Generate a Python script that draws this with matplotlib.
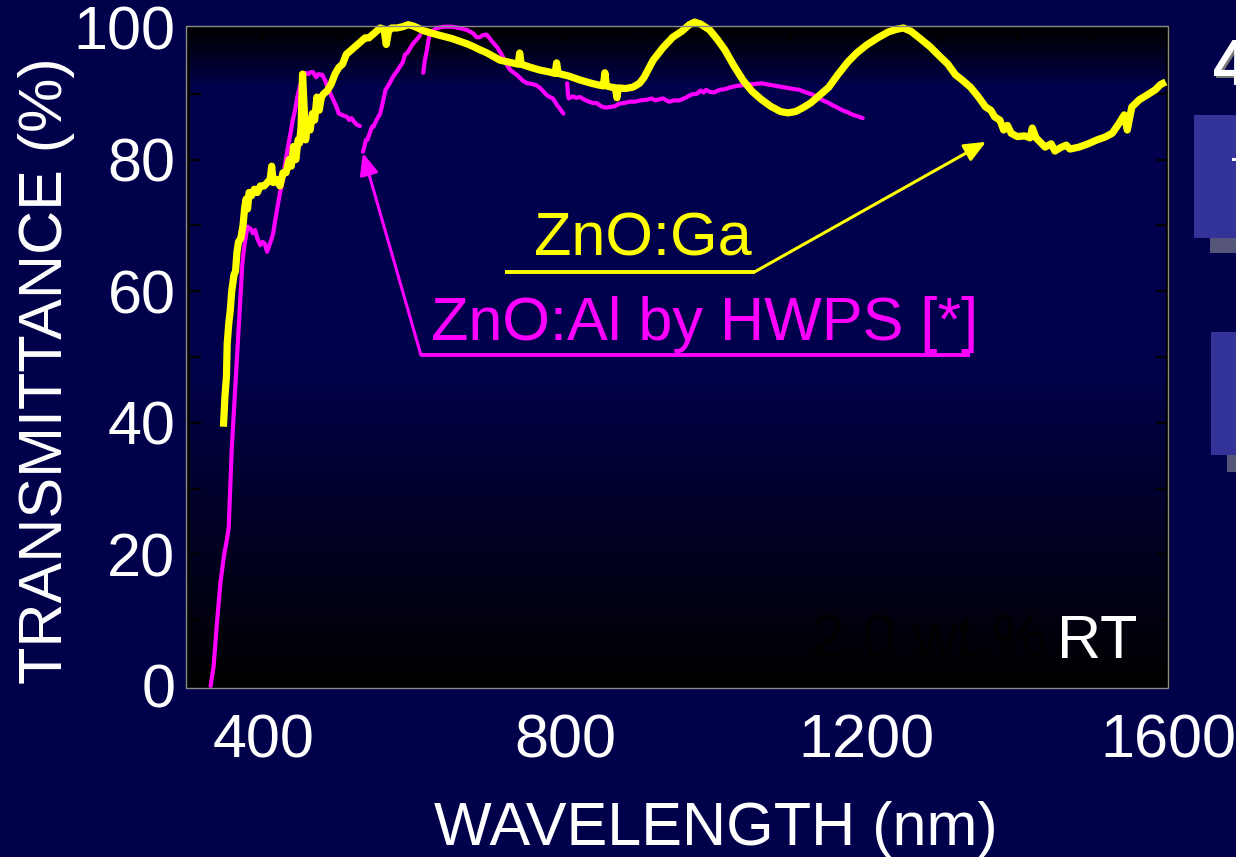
import numpy as np
import matplotlib
matplotlib.use('Agg')
import matplotlib.pyplot as plt
from matplotlib.patches import Rectangle
from matplotlib.ticker import MultipleLocator

plt.rcParams['font.family'] = ['Liberation Sans', 'DejaVu Sans']

# ---------------- data ----------------
ga_wl = [347, 349, 351, 352, 354, 356, 358, 361, 363, 365, 367, 370, 373, 375, 377, 379, 381,
         384, 388, 392, 396, 401, 405, 409, 411, 413, 417, 422, 426, 430, 434, 437, 440, 443,
         446, 448, 450, 452, 454, 456, 459, 462, 465, 468, 471, 474, 477, 480, 485, 490, 495,
         500, 505, 510, 515, 520, 525, 530, 535, 540, 545, 550, 555, 560, 563, 566, 570, 577,
         585, 592, 599, 605, 612, 621, 630, 640, 650, 660, 670, 680, 687, 695, 700, 714, 730,
         738, 740, 742, 755, 767, 780, 787, 789, 791, 805, 820, 835, 846, 851, 853, 855, 862,
         867, 869, 871, 880, 890, 899, 905, 917, 930, 943, 955, 965, 972, 980, 992, 1002, 1012,
         1024, 1036, 1048, 1061, 1073, 1086, 1096, 1106, 1116, 1126, 1138, 1150, 1162, 1175,
         1187, 1200, 1215, 1229, 1240, 1249, 1259, 1269, 1284, 1298, 1308, 1318, 1328, 1338,
         1348, 1358, 1365, 1370, 1377, 1382, 1387, 1392, 1400, 1410, 1417, 1420, 1425, 1437,
         1445, 1450, 1457, 1465, 1470, 1482, 1494, 1506, 1516, 1526, 1535, 1542, 1546, 1552,
         1562, 1572, 1583, 1590, 1597]
ga_t = [39.4, 44, 47, 52, 55, 57, 60, 62.5, 63, 66, 67.5, 68, 70, 72.5, 74, 72.5, 75,
        74.5, 75.5, 75, 76, 76, 76.5, 77, 79, 76.5, 77, 76, 78, 78, 80, 79, 82, 80,
        83, 82.5, 85, 93, 88, 83, 86, 84.5, 87, 86, 89.5, 87.5, 89.5, 90, 90.5, 91.5, 93,
        94, 94.5, 96, 96.5, 97, 97.5, 98, 98.5, 98.5, 99, 99.5, 100, 99.8, 97.5, 99.5, 100, 100,
        100.2, 100.5, 100.3, 100, 99.6, 99.3, 99, 98.7, 98.4, 98, 97.6, 97.1, 96.7, 96.3, 96, 95.1, 94.7,
        94.5, 96.2, 94.5, 94.0, 93.6, 93.3, 93.1, 94.7, 93.1, 92.7, 92.1, 91.6, 91.3, 91.2, 93.2, 91.2, 91.0,
        90.9, 89.4, 90.9, 90.8, 91.0, 91.6, 92.5, 95.1, 97, 98.6, 99.5, 100.5, 100.9, 100.6, 99.7, 98.3, 96.7,
        94.3, 92.1, 90.4, 89.1, 88.1, 87.3, 87.1, 87.3, 87.9, 88.6, 89.8, 91, 92.9, 94.8,
        96.2, 97.4, 98.5, 99.4, 99.8, 100, 99.5, 98.6, 97.2, 95.6, 94.5, 92.9, 92, 91,
        89.6, 88, 87.5, 86.5, 86, 84.5, 85.2, 84, 83.5, 83.6, 83.3, 84.8, 83.3, 81.9,
        82.4, 81.3, 81.8, 82.2, 81.6, 81.9, 82.4, 83.0, 83.4, 84.0, 85.5, 86.8, 84.5, 88,
        89.1, 89.8, 90.6, 91.4, 91.8]

al_wl_a = [330, 334, 338, 343, 348, 352, 354, 356, 358, 360, 362, 364, 366, 368, 370, 372, 374,
           377, 379, 383, 386, 389, 392, 396, 399, 402, 405, 408, 411, 413, 416, 419, 422, 426,
           429, 432, 436, 439, 442, 445, 448, 452, 456, 460, 463, 466, 470, 473, 476, 478, 482,
           485, 489, 493, 497, 500, 504, 508, 511, 514, 517, 520, 524, 528]
al_t_a = [0, 3, 9, 15.7, 20, 22.5, 24, 30, 36, 40, 44, 48, 52, 56, 60, 64, 66.3,
          68.5, 69.8, 69.5, 68.8, 69.3, 68, 67, 67.5, 67.2, 66, 67, 68, 68.8, 71, 73, 74.9, 77,
          79.5, 81.5, 84, 86, 87.5, 89.5, 91, 92.6, 93.2, 93, 93.3, 93.3, 92.5, 93, 92.9, 92.9, 92,
          91, 90, 89, 88, 87, 86.8, 86.6, 86.5, 86, 86.3, 85.8, 85.3, 85.1]

al_wl_b = [532, 534, 536, 538, 541, 544, 546, 550, 555, 558, 562, 567, 572, 577, 581, 585, 588,
           591, 595, 599, 603, 606, 608]
al_t_b = [81.2, 82, 83, 83, 84, 85, 85, 86, 87, 88.5, 90.6, 91.5, 92.6, 93.4, 94.1, 94.8, 96,
          96.2, 97, 97.7, 98.2, 98.6, 98.9]

al_wl_c = [612, 614, 617, 619, 621, 625, 630, 640, 650, 660, 670, 678, 683, 687, 691, 695, 697,
           703, 710, 716, 723, 727, 731, 737, 744, 750, 756, 762, 767, 771, 776, 780, 784, 788,
           790, 793, 796, 798]
al_t_c = [93.2, 95, 96.7, 98.2, 99.2, 99.6, 100, 100.2, 100.2, 100, 99.7, 99.2, 98.6, 98.6, 98.9, 99, 98.9,
          98, 97.1, 96, 94.4, 93.7, 93.3, 92.8, 92, 91.6, 91.5, 91.3, 90.9, 90.4, 89.8, 89.5, 89.3, 88.6,
          88.2, 87.8, 87.3, 87.0]

al_wl_d = [803, 804, 805, 810, 815, 820, 826, 832, 837, 842, 848, 854, 860, 866, 872, 879, 886,
           893, 900, 909, 915, 920, 926, 930, 938, 945, 952, 960, 968, 975, 980, 984, 987, 992,
           998, 1005, 1012, 1020, 1028, 1036, 1044, 1052, 1061, 1070, 1080, 1090, 1100, 1111,
           1120, 1128, 1135, 1142, 1150, 1156, 1160, 1168, 1175, 1182, 1188, 1195]
al_t_d = [91.6, 90, 89.3, 89.6, 89.4, 89.5, 89.1, 88.8, 88.6, 88.6, 88.1, 87.9, 88.0, 88.1, 88.5, 88.6, 88.8,
          88.8, 89.0, 89.1, 89.3, 89.0, 89.2, 89.3, 88.8, 89.0, 89.0, 89.4, 89.9, 90.0, 90.5, 90.2, 90.6, 90.3,
          90.2, 90.6, 90.7, 91.0, 91.2, 91.3, 91.4, 91.5, 91.6, 91.4, 91.2, 91.0, 90.8, 90.6,
          90.2, 89.9, 89.5, 89.0, 88.6, 88.2, 88.0, 87.5, 87.2, 86.8, 86.6, 86.3]

x_ticks = [400, 800, 1200, 1600]
y_ticks = [0, 20, 40, 60, 80, 100]

label_ga = "ZnO:Ga"
label_al = "ZnO:Al by HWPS [*]"

YEL = '#ffff00'
MAG = '#ff00ff'

# ---------------- figure ----------------
W, H = 1236, 857
fig = plt.figure(figsize=(W / 100, H / 100), dpi=100)
fig.patch.set_facecolor('#00004b')

ax = fig.add_axes([188 / W, 1 - 686 / H, 980 / W, 658 / H])
ax.set_facecolor('black')

# vertical gradient in the plot area (black -> navy -> black)
f = np.linspace(0, 1, 400)
g = np.clip(f / 0.5, 0, 1) * np.clip((1 - f) / 0.09, 0, 1)
navy = np.array([0.0, 0.0, 0.30])
img = (g[:, None] * navy[None, :])[:, None, :]
ax.imshow(img, extent=[0, 1, 0, 1], transform=ax.transAxes, aspect='auto',
          origin='lower', zorder=0, interpolation='bilinear')

# curves
for xs, ys in [(al_wl_a, al_t_a), (al_wl_b, al_t_b), (al_wl_c, al_t_c), (al_wl_d, al_t_d)]:
    ax.plot(xs, ys, color=MAG, lw=3.0, solid_capstyle='round', solid_joinstyle='round',
            zorder=3, clip_on=False)
ax.plot(ga_wl, ga_t, color=YEL, lw=5.2, solid_capstyle='butt', solid_joinstyle='round',
        zorder=4, clip_on=False)

ax.set_xlim(300, 1600)
ax.set_ylim(0, 100)
ax.set_xticks(x_ticks)
ax.set_yticks(y_ticks)
ax.xaxis.set_minor_locator(MultipleLocator(100))
ax.yaxis.set_minor_locator(MultipleLocator(10))
ax.tick_params(which='both', direction='in', top=True, right=True, color='black',
               length=9, width=1.6, labelcolor='white')
ax.tick_params(axis='x', which='major', labelsize=44, pad=20)
ax.tick_params(axis='y', which='major', labelsize=44, pad=9)
for sp in ax.spines.values():
    sp.set_color('black')
    sp.set_linewidth(3)

# gray outer frame
fig.add_artist(Rectangle((186 / W, 1 - 687.5 / H), 982 / W, 662 / H, transform=fig.transFigure,
                         fill=False, ec='#8a8a8a', lw=1.0, zorder=10))

# annotations
ax.text(903, 65.5, label_ga, color=YEL, fontsize=44, ha='center', va='baseline', zorder=6)
ax.plot([720.5, 1052], [62.96, 62.96], color=YEL, lw=2.8, zorder=5, solid_capstyle='butt')
ax.annotate('', xy=(1358.6, 82.7), xytext=(1052, 62.96),
            arrowprops=dict(arrowstyle='-|>,head_length=0.65,head_width=0.28', mutation_scale=20,
                            color=YEL, lw=2.2, shrinkA=0, shrinkB=0), zorder=5)

ax.text(985.8, 52.6, label_al, color=MAG, fontsize=44, ha='center', va='baseline', zorder=6)
ax.plot([609, 1337], [50.3, 50.3], color=MAG, lw=2.8, zorder=5, solid_capstyle='butt')
ax.annotate('', xy=(532, 81.0), xytext=(609, 50.3),
            arrowprops=dict(arrowstyle='-|>,head_length=0.65,head_width=0.28', mutation_scale=20,
                            color=MAG, lw=2.2, shrinkA=0, shrinkB=0), zorder=5)

ax.text(1126.4, 4.26, "2.0 wt.%", color='#000000', fontsize=44, ha='left', va='baseline', zorder=6)
ax.text(1452.8, 4.26, "RT", color='white', fontsize=44, ha='left', va='baseline', zorder=6)

# axis titles
fig.text(716 / W, 1 - 845 / H, "WAVELENGTH (nm)", color='white', fontsize=44,
         ha='center', va='baseline')
fig.text(62 / W, 1 - 371 / H, "TRANSMITTANCE (%)", color='white', fontsize=44,
         ha='center', va='baseline', rotation=90, rotation_mode='anchor')

# slide decorations at the right edge (partially visible, as in the reference)
fig.text(1215 / W, 1 - 87 / H, "4", color='#777777', fontsize=46, fontweight='bold',
         ha='left', va='baseline')
fig.text(1213 / W, 1 - 85 / H, "4", color='white', fontsize=46, fontweight='bold',
         ha='left', va='baseline')
fig.add_artist(Rectangle((1210 / W, 1 - 253 / H), 30 / W, 15 / H, transform=fig.transFigure,
                         fc='#55557a', ec='none'))
fig.add_artist(Rectangle((1194 / W, 1 - 238 / H), 50 / W, 123 / H, transform=fig.transFigure,
                         fc='#333399', ec='none'))
fig.add_artist(Rectangle((1232 / W, 1 - 161 / H), 6 / W, 3 / H, transform=fig.transFigure,
                         fc='white', ec='none'))
fig.add_artist(Rectangle((1227 / W, 1 - 472 / H), 12 / W, 17 / H, transform=fig.transFigure,
                         fc='#55557a', ec='none'))
fig.add_artist(Rectangle((1211 / W, 1 - 455 / H), 30 / W, 123 / H, transform=fig.transFigure,
                         fc='#333399', ec='none'))

fig.savefig('out.png', dpi=100, facecolor=fig.get_facecolor())
